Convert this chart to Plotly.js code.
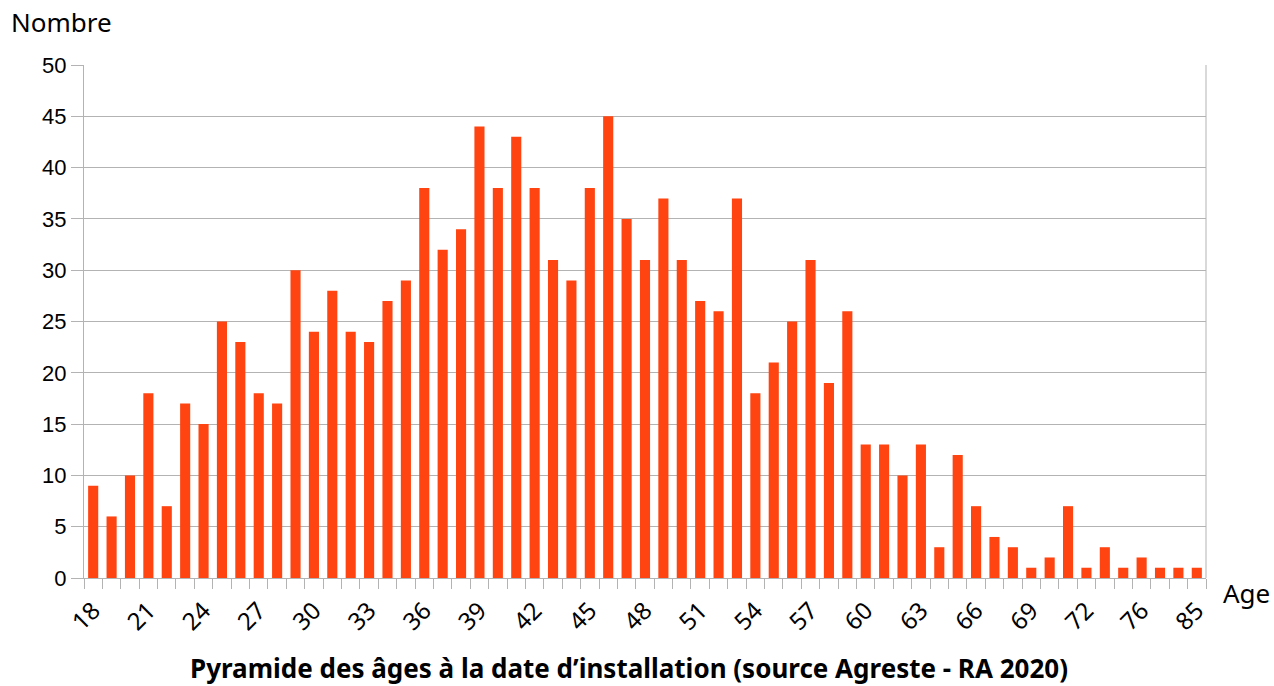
<!DOCTYPE html>
<html><head><meta charset="utf-8">
<script src="https://cdn.plot.ly/plotly-3.0.1.min.js"></script>
<style>body{margin:0;background:#fff}#c{width:1274px;height:686px}</style>
</head><body><div id="c"></div>
<script>
const ages = ["18","19","20","21","22","23","24","25","26","27","28","29","30","31","32","33","34","35","36","37","38","39","40","41","42","43","44","45","46","47","48","49","50","51","52","53","54","55","56","57","58","59","60","61","62","63","64","65","66","67","68","69","70","71","72","73","74","76","77","80","85"];
const counts = [9,6,10,18,7,17,15,25,23,18,17,30,24,28,24,23,27,29,38,32,34,44,38,43,38,31,29,38,45,35,31,37,31,27,26,37,18,21,25,31,19,26,13,13,10,13,3,12,7,4,3,1,2,7,1,3,1,2,1,1,1];
const tickLabels = ages.map((a,i)=> i%3===0 ? a : "");
const titleText = "Pyramide des âges à la date d’installation (source Agreste - RA 2020)";
const yTitle = "Nombre";
const xTitle = "Age";

const trace = {type:"bar", x:ages, y:counts, marker:{color:"#FF4411"}, hoverinfo:"x+y"};
const layout = {
  width:1274, height:686,
  margin:{l:84, r:68, t:65, b:108},
  paper_bgcolor:"#fff", plot_bgcolor:"#fff",
  bargap:0.45,
  showlegend:false,
  xaxis:{type:"category", tickmode:"array", tickvals:ages, ticktext:tickLabels,
    tickson:"boundaries", ticks:"outside", ticklen:10, tickcolor:"#b3b3b3", tickwidth:1,
    tickangle:-45, ticklabelstandoff:8, tickfont:{family:"Noto Sans, sans-serif", size:24, color:"#000"},
    showgrid:false, showline:true, linecolor:"#b3b3b3", linewidth:1, mirror:false,
    zeroline:false, automargin:false},
  yaxis:{range:[0,50], dtick:5, tick0:0, ticks:"outside", ticklen:12, tickcolor:"#b3b3b3",
    showgrid:true, gridcolor:"#b3b3b3", gridwidth:1, showline:true, linecolor:"#b3b3b3",
    mirror:false, zeroline:false, tickfont:{family:"Liberation Sans, Arial, sans-serif", size:22, color:"#000"},
    automargin:false},
  shapes:[{type:"line", xref:"paper", yref:"paper", x0:1, x1:1, y0:0, y1:1, line:{color:"#b3b3b3", width:1}}],
  annotations:[
    {text:yTitle, xref:"paper", yref:"paper", x:-0.067, y:1.044, xanchor:"left", yanchor:"bottom", showarrow:false,
     font:{family:"Noto Sans, sans-serif", size:26, color:"#000"}},
    {text:xTitle, xref:"paper", yref:"paper", x:1.013, y:-0.03, xanchor:"left", yanchor:"middle", showarrow:false,
     font:{family:"Noto Sans, sans-serif", size:26, color:"#000"}},
    {text:"<b>"+titleText+"</b>", xref:"paper", yref:"paper", x:0.486, y:-0.175, xanchor:"center", yanchor:"middle", showarrow:false,
     font:{family:"Noto Sans, sans-serif", size:26, color:"#000"}}
  ]
};
Plotly.newPlot("c", [trace], layout, {displayModeBar:false});
</script></body></html>
